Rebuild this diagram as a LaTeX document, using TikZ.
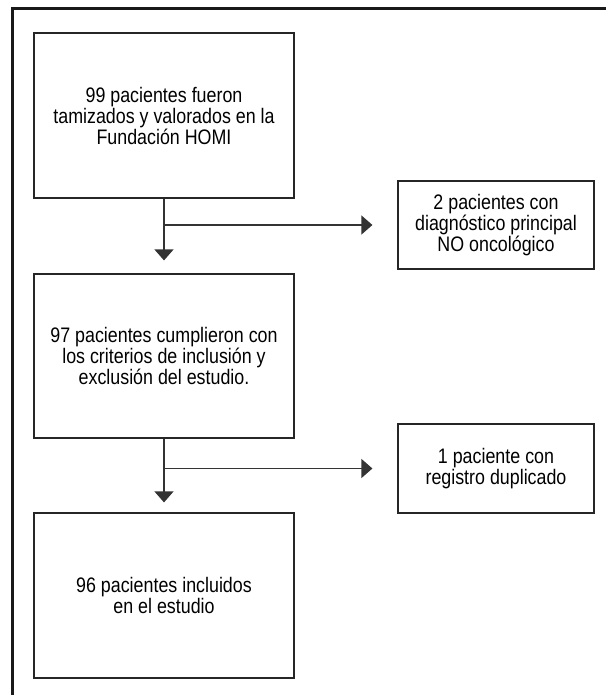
\documentclass[tikz,border=0pt]{standalone}
\usepackage{fontspec}
\setmainfont{Liberation Sans}[FakeStretch=0.85]
\usetikzlibrary{arrows.meta}
\begin{document}
\begin{tikzpicture}[x=1pt,y=-1pt,
  box/.style={draw=black!85,line width=1.2pt,minimum width=260pt,align=center,
    inner sep=0pt,font=\fontsize{21}{21}\selectfont},
  sidebox/.style={draw=black!85,line width=1.2pt,minimum width=196pt,align=center,
    inner sep=0pt,font=\fontsize{21}{21}\selectfont},
  conn/.style={draw=black!80,line width=1.2pt,-{Triangle[length=11pt,width=19pt]}}]
\useasboundingbox (0,0) rectangle (606,695);
\draw[line width=3pt,black!90] (12,695) -- (12,9) -- (606,9);
\node[box,minimum height=165pt] (b1) at (164,115.5) {99 pacientes fueron\\tamizados y valorados en la\\Fundación HOMI};
\node[box,minimum height=164pt] (b2) at (164,356) {97 pacientes cumplieron con\\los criterios de inclusión y\\exclusión del estudio.};
\node[box,minimum height=165pt] (b3) at (164,595.5) {96 pacientes incluidos\\en el estudio};
\node[sidebox,minimum height=88pt] (r1) at (496,225) {2 pacientes con\\diagnóstico principal\\NO oncológico};
\node[sidebox,minimum height=89pt] (r2) at (496,468.5) {1 paciente con\\registro duplicado};
\coordinate (j1) at (b1.south |- r1.west);
\coordinate (j2) at (b2.south |- r2.west);
\draw[conn,shorten >=13pt] (b1.south) -- (b2.north);
\draw[conn,shorten >=25pt] (j1) -- (r1.west);
\draw[conn,shorten >=10pt] (b2.south) -- (b3.north);
\draw[conn,shorten >=25pt] (j2) -- (r2.west);
\end{tikzpicture}
\end{document}
